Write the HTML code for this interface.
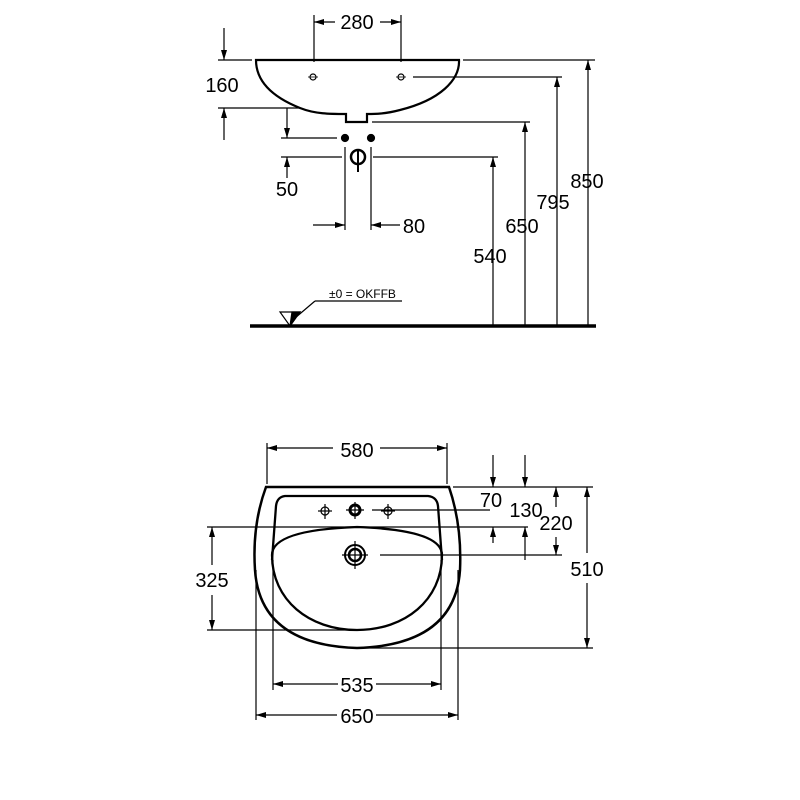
<!DOCTYPE html>
<html><head><meta charset="utf-8"><style>html,body{margin:0;padding:0;background:#fff}svg{display:block}text{font-family:"Liberation Sans",sans-serif;fill:#000}</style></head><body>
<svg width="800" height="800" viewBox="0 0 800 800" xmlns="http://www.w3.org/2000/svg">
<defs>
<marker id="a" viewBox="0 0 10 6" refX="10" refY="3" markerWidth="10" markerHeight="6" orient="auto-start-reverse" markerUnits="userSpaceOnUse"><path d="M0,0L10,3L0,6z" fill="#000"/></marker>
</defs>
<g stroke="#000" stroke-width="1.2" fill="none">
<!-- TOP VIEW -->
<line x1="314" y1="15" x2="314" y2="62"/><line x1="401" y1="15" x2="401" y2="62"/>
<line x1="314" y1="22" x2="335" y2="22" marker-start="url(#a)"/><line x1="380" y1="22" x2="401" y2="22" marker-end="url(#a)"/>
<line x1="218" y1="60" x2="252" y2="60"/><line x1="218" y1="108" x2="300" y2="108"/>
<line x1="224" y1="28" x2="224" y2="60" marker-end="url(#a)"/><line x1="224" y1="140" x2="224" y2="108" marker-end="url(#a)"/>
<path d="M256,60 L459,60 C460,80 440,100 400,110 C385,114 375,114 367,114 L367,122 L346,122 L346,114 C330,114 315,114 300,108 C270,96 256,80 256,60 Z" stroke-width="2.2"/>
<circle cx="313" cy="77" r="3"/><circle cx="401" cy="77" r="3"/>
<line x1="308" y1="77" x2="318" y2="77" stroke-width="0.8"/><line x1="396" y1="77" x2="406" y2="77" stroke-width="0.8"/>
<line x1="463" y1="60" x2="595" y2="60"/>
<line x1="413" y1="77" x2="562" y2="77"/>
<line x1="372" y1="122" x2="530" y2="122"/>
<line x1="373" y1="157" x2="498" y2="157"/>
<line x1="588" y1="325" x2="588" y2="60" marker-end="url(#a)"/>
<line x1="557" y1="325" x2="557" y2="77" marker-end="url(#a)"/>
<line x1="525" y1="325" x2="525" y2="122" marker-end="url(#a)"/>
<line x1="493" y1="325" x2="493" y2="157" marker-end="url(#a)"/>
<line x1="250" y1="326" x2="596" y2="326" stroke-width="3.5"/>
<line x1="287" y1="108" x2="287" y2="138" marker-end="url(#a)"/><line x1="287" y1="178" x2="287" y2="157" marker-end="url(#a)"/>
<line x1="281" y1="138" x2="337" y2="138"/><line x1="281" y1="157" x2="342" y2="157"/>
<circle cx="345" cy="138" r="3.5" fill="#000"/><circle cx="371" cy="138" r="3.5" fill="#000"/>
<circle cx="358" cy="157" r="7" stroke-width="2.5"/><line x1="358" y1="150" x2="358" y2="172" stroke-width="2"/>
<line x1="345" y1="147" x2="345" y2="230"/><line x1="371" y1="147" x2="371" y2="230"/>
<line x1="313" y1="225" x2="345" y2="225" marker-end="url(#a)"/><line x1="400" y1="225" x2="371" y2="225" marker-end="url(#a)"/>
<path d="M280,312 L300,312 L290,326 Z" stroke-width="1.2"/><path d="M292,312 L300,312 L290,326 Z" fill="#000"/>
<line x1="295" y1="318" x2="315" y2="301"/><line x1="315" y1="301" x2="402" y2="301"/>
<!-- BOTTOM VIEW -->
<line x1="267" y1="443" x2="267" y2="484"/><line x1="447" y1="443" x2="447" y2="484"/>
<line x1="267" y1="448" x2="333" y2="448" marker-start="url(#a)"/><line x1="380" y1="448" x2="447" y2="448" marker-end="url(#a)"/>
<path d="M266,487 L449,487 Q462,525 460,570 Q455,645 357,648 Q260,645 255,570 Q252,525 266,487 Z" stroke-width="2.5"/>
<path d="M272,560 L276,506 Q277,497 285,496 L428,496 Q437,497 438,506 L442,560" stroke-width="2.3"/>
<path d="M272,555 Q272,530 357,527 Q442,530 442,555 C442,600 405,630 357,630 C309,630 272,600 272,555 Z" stroke-width="2.3"/>
<circle cx="325" cy="511" r="4"/><line x1="318" y1="511" x2="332" y2="511"/><line x1="325" y1="504" x2="325" y2="519"/>
<circle cx="355" cy="510" r="5" stroke-width="3"/><line x1="355" y1="502" x2="355" y2="519"/><line x1="346" y1="510" x2="364" y2="510"/>
<circle cx="388" cy="511" r="4"/><line x1="381" y1="511" x2="395" y2="511"/><line x1="388" y1="504" x2="388" y2="519"/>
<circle cx="355" cy="555" r="10" stroke-width="2"/><circle cx="355" cy="555" r="6" stroke-width="2.5"/>
<line x1="342" y1="555" x2="368" y2="555"/><line x1="355" y1="541" x2="355" y2="569"/>
<line x1="372" y1="510" x2="490" y2="510"/>
<line x1="207" y1="527" x2="528" y2="527"/>
<line x1="380" y1="555" x2="562" y2="555"/>
<line x1="453" y1="487" x2="593" y2="487"/>
<line x1="357" y1="648" x2="593" y2="648"/>
<line x1="207" y1="630" x2="357" y2="630"/>
<line x1="493" y1="455" x2="493" y2="487" marker-end="url(#a)"/><line x1="493" y1="543" x2="493" y2="527" marker-end="url(#a)"/>
<line x1="525" y1="455" x2="525" y2="487" marker-end="url(#a)"/><line x1="525" y1="560" x2="525" y2="527" marker-end="url(#a)"/>
<line x1="556" y1="507" x2="556" y2="487" marker-end="url(#a)"/><line x1="556" y1="537" x2="556" y2="555" marker-end="url(#a)"/>
<line x1="587" y1="553" x2="587" y2="487" marker-end="url(#a)"/><line x1="587" y1="583" x2="587" y2="648" marker-end="url(#a)"/>
<line x1="212" y1="565" x2="212" y2="527" marker-end="url(#a)"/><line x1="212" y1="595" x2="212" y2="630" marker-end="url(#a)"/>
<line x1="273" y1="560" x2="273" y2="690"/><line x1="441" y1="560" x2="441" y2="690"/>
<line x1="273" y1="684" x2="338" y2="684" marker-start="url(#a)"/><line x1="376" y1="684" x2="441" y2="684" marker-end="url(#a)"/>
<line x1="256" y1="570" x2="256" y2="720"/><line x1="458" y1="570" x2="458" y2="720"/>
<line x1="256" y1="715" x2="337" y2="715" marker-start="url(#a)"/><line x1="376" y1="715" x2="458" y2="715" marker-end="url(#a)"/>
</g>
<g font-size="20">
<text x="357" y="29" text-anchor="middle">280</text>
<text x="222" y="92" text-anchor="middle">160</text>
<text x="287" y="196" text-anchor="middle">50</text>
<text x="414" y="233" text-anchor="middle">80</text>
<text x="490" y="263" text-anchor="middle">540</text>
<text x="522" y="233" text-anchor="middle">650</text>
<text x="553" y="209" text-anchor="middle">795</text>
<text x="587" y="188" text-anchor="middle">850</text>
<text x="357" y="457" text-anchor="middle">580</text>
<text x="491" y="507" text-anchor="middle">70</text>
<text x="526" y="517" text-anchor="middle">130</text>
<text x="556" y="530" text-anchor="middle">220</text>
<text x="587" y="576" text-anchor="middle">510</text>
<text x="212" y="587" text-anchor="middle">325</text>
<text x="357" y="692" text-anchor="middle">535</text>
<text x="357" y="723" text-anchor="middle">650</text>
</g>
<text x="329" y="298" font-size="12">±0 = OKFFB</text>
</svg>
</body></html>
